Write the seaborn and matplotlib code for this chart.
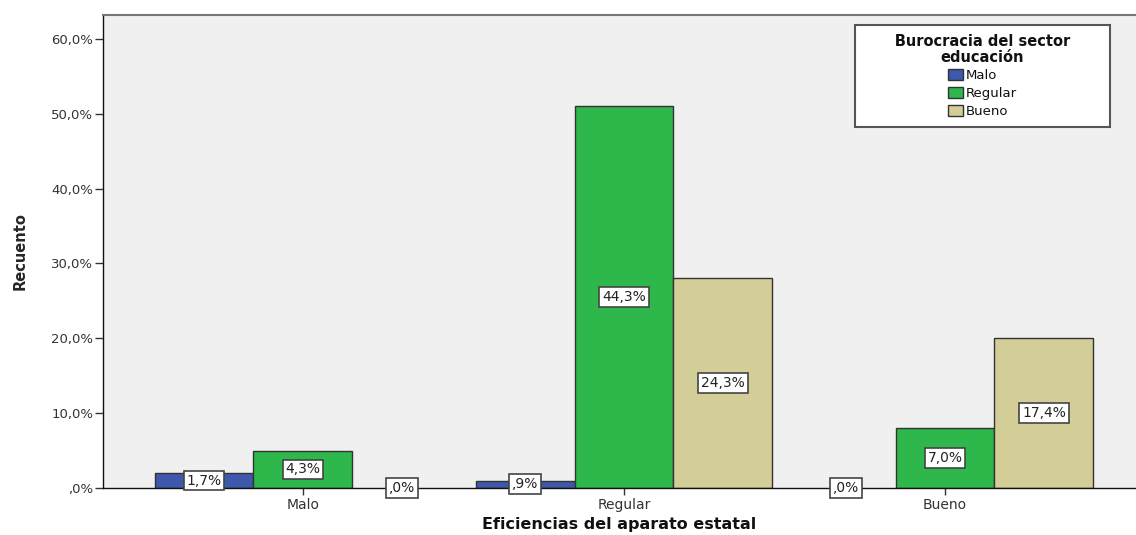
import pandas as pd
import numpy as np
import matplotlib
matplotlib.use("Agg")
import matplotlib.pyplot as plt
from matplotlib.ticker import FuncFormatter, MultipleLocator
import seaborn as sns

eficiencia = ["Malo", "Regular", "Bueno"]
burocracia = ["Malo", "Regular", "Bueno"]

# recuento por grupo (eje x) y nivel de burocracia
cnt_malo = [2, 1, 0]
cnt_regular = [5, 51, 8]
cnt_bueno = [0, 28, 20]

# etiquetas mostradas en las barras
lbl_malo = ["1,7%", ",9%", ",0%"]
lbl_regular = ["4,3%", "44,3%", "7,0%"]
lbl_bueno = [",0%", "24,3%", "17,4%"]

colors = ["#3e58ac", "#2eb84b", "#d3ce97"]

df = pd.DataFrame({
    "Eficiencias": eficiencia * 3,
    "Burocracia": np.repeat(burocracia, 3),
    "Recuento": cnt_malo + cnt_regular + cnt_bueno,
})

sns.set_style("white")
plt.rcParams["font.family"] = ["DejaVu Sans"]

fig = plt.figure(figsize=(11.36, 5.35), dpi=100)
ax = fig.add_axes([103 / 1136, 47 / 535, 1 - 103 / 1136, 473 / 535])
ax.set_facecolor("#f0f0f0")

sns.barplot(data=df, x="Eficiencias", y="Recuento", hue="Burocracia",
            order=eficiencia, hue_order=burocracia, palette=colors,
            width=0.925, gap=0, edgecolor="#333333", linewidth=1,
            saturation=1, ax=ax)

# barras de altura cero no se dibujan
for p in ax.patches:
    if p.get_height() == 0:
        p.set_linewidth(0)

for cont, labs in zip(ax.containers, [lbl_malo, lbl_regular, lbl_bueno]):
    ax.bar_label(cont, labels=labs, label_type="center", fontsize=10,
                 color="#222222",
                 bbox=dict(boxstyle="square,pad=0.2", facecolor="white",
                           edgecolor="#444444", linewidth=1.2))

ax.set_xlim(-0.623, 2.595)
ax.set_ylim(0, 63.2)
ax.yaxis.set_major_locator(MultipleLocator(10))
ax.yaxis.set_major_formatter(FuncFormatter(
    lambda v, p: (f"{v:.1f}%".replace(".", ",") if v >= 1 else ",0%")))

ax.tick_params(axis="y", which="major", direction="out", length=6, width=1,
               left=True, labelsize=9.5, colors="#333333", pad=1)
ax.tick_params(axis="x", which="major", direction="out", length=5, width=1,
               bottom=True, labelsize=10, colors="#333333", pad=2)

for s in ["left", "bottom"]:
    ax.spines[s].set_color("#111111")
    ax.spines[s].set_linewidth(1)
ax.spines["top"].set_color("#777777")
ax.spines["top"].set_linewidth(1.5)
ax.spines["right"].set_visible(False)

ax.set_ylabel("Recuento", fontsize=10.5, fontweight="bold", labelpad=17)
ax.set_xlabel("Eficiencias del aparato estatal", fontsize=11.5,
              fontweight="bold", labelpad=4)
ax.xaxis.label.set_color("#111111")

leg = ax.legend(title="      Burocracia del sector      \neducación",
                loc="upper right", bbox_to_anchor=(0.975, 0.979),
                borderaxespad=0, frameon=True, fancybox=False, fontsize=9.5,
                title_fontproperties={"weight": "bold", "size": 10.5},
                handlelength=1.1, handleheight=0.9, handletextpad=0.2,
                labelspacing=0.35, borderpad=0.7)
leg.get_frame().set_edgecolor("#555555")
leg.get_frame().set_linewidth(1.5)
leg.get_frame().set_facecolor("white")
leg.get_frame().set_alpha(1)
leg.get_title().set_multialignment("center")
leg.get_title().set_linespacing(1.05)
leg.get_title().set_color("#111111")
for h in leg.legend_handles:
    h.set_edgecolor("#333333")
    h.set_linewidth(1)
for t in leg.get_texts():
    t.set_color("#111111")

fig.savefig("out.png", dpi=100)
